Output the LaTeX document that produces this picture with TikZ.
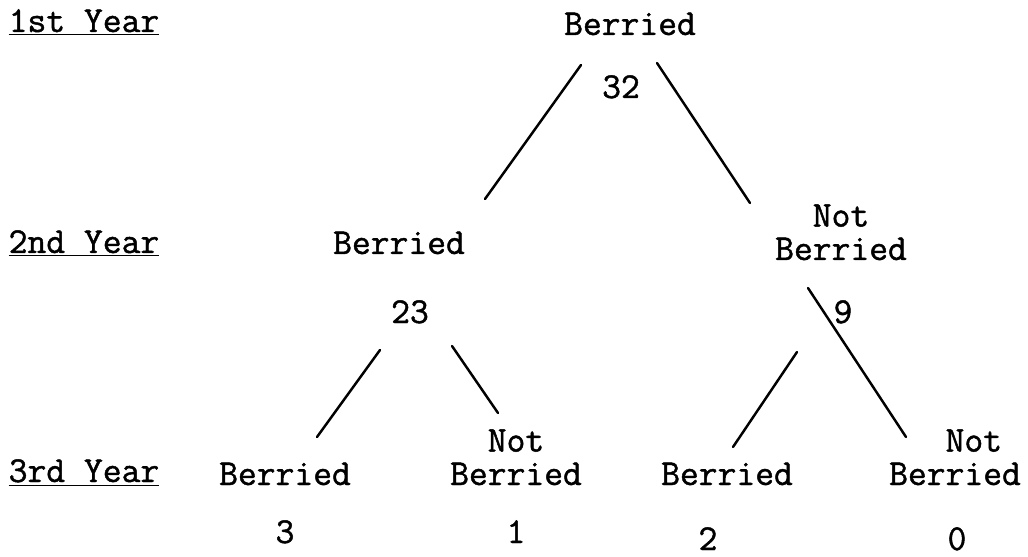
\documentclass[tikz,border=0pt]{standalone}
\usepackage{fontspec}
\newfontfamily\treeface[FakeBold=1.2]{Latin Modern Mono}
\newcommand{\treefont}{\treeface\fontsize{20.8}{19}\selectfont}

\begin{document}
\begin{tikzpicture}[x=0.02cm,y=-0.02cm,
		lbl/.style={font=\treefont,inner sep=0pt,anchor=base,align=center},
		branch/.style={line width=1.4pt,line cap=round}]
		\useasboundingbox (0,0) rectangle (1028,557);
		% year labels
		\node[lbl] (yr1) at (84,32) {\underline{1st Year}};
		\node[lbl] (yr2) at (84,253) {\underline{2nd Year}};
		\node[lbl] (yr3) at (84,482) {\underline{3rd Year}};
		% tree (base of a two-line node is its last line)
		\node[lbl] (top) at (630,35) {Berried};
		\node[lbl] (n32) at (621,98) {32};
		\node[lbl] (mid-b) at (399,254) {Berried};
		\node[lbl] (mid-nb) at (841,260) {Not\\Berried};
		\node[lbl] (n23) at (410,323) {23};
		\node[lbl] (n9) at (843,323) {9};
		\node[lbl] (bb-b) at (285,485) {Berried};
		\node[lbl] (bb-nb) at (516,485) {Not\\Berried};
		\node[lbl] (nb-b) at (727,485) {Berried};
		\node[lbl] (nb-nb) at (955,485) {\phantom{NN}Not\\Berried};
		\node[lbl] (n3) at (285,543) {3};
		\node[lbl] (n1) at (516,543) {1};
		\node[lbl] (n2) at (708,550) {2};
		\node[lbl] (n0) at (957,550) {0};
		% branch ends
		\coordinate (top-l) at (581,65);
		\coordinate (top-r) at (657,63);
		\coordinate (mid-b-up) at (485,199);
		\coordinate (mid-nb-up) at (750,203);
		\coordinate (mid-b-l) at (380,350);
		\coordinate (mid-b-r) at (452,346);
		\coordinate (mid-nb-l) at (797,352);
		\coordinate (mid-nb-r) at (808,288);
		\coordinate (bb-b-up) at (317,437);
		\coordinate (bb-nb-up) at (498,413);
		\coordinate (nb-b-up) at (733,447);
		\coordinate (nb-nb-up) at (906,437);
		\draw[branch] (top-l) -- (mid-b-up);
		\draw[branch] (top-r) -- (mid-nb-up);
		\draw[branch] (mid-b-l) -- (bb-b-up);
		\draw[branch] (mid-b-r) -- (bb-nb-up);
		\draw[branch] (mid-nb-l) -- (nb-b-up);
		\draw[branch] (mid-nb-r) -- (nb-nb-up);
\end{tikzpicture}
\end{document}
